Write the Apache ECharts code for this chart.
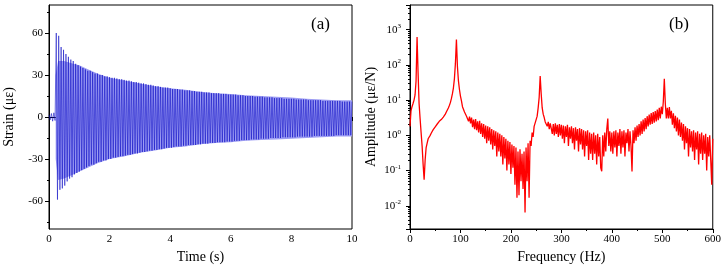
<!DOCTYPE html>
<html><head><meta charset="utf-8">
<script src="https://cdn.jsdelivr.net/npm/echarts@6/dist/echarts.min.js"></script>
<style>html,body{margin:0;padding:0;background:#fff}#c{width:724px;height:274px}</style>
</head><body><div id="c"></div>
<script>
// ---- Panel (a): strain time history (peaks/troughs) ----
const strainStart = 0;      // s
const strainStep = 0.04;    // s between successive peak/trough samples
const strainValues = [
 1.5,-2,2.5,-3,3,-2.5,60,-59,58,-52,
 50,-51,48,-49,45,-46,43,-44,41,-43,
 40,-41,38,-40,37,-39,36,-38,35,-37,
 34,-36,33,-35,33,-34,32,-34,31,-33,
 31,-32,30,-32,30,-31,29,-31,29,-30,
 28.5,-30,28,-29,28,-29,27.5,-28.5,27,-28,
 27,-28,26.5,-27.5,26,-27,26,-27,25.5,-26.5,
 25,-26,25,-26,24.5,-25.5,24,-25,24,-25,
 23.5,-24.5,23,-24,23,-24,22.5,-23.5,22,-23.5,
 22,-23,21.5,-23,21,-22.5,21,-22,21,-22,
 20.5,-22,20,-21.5,20,-21,20,-21,19.5,-21,
 19.5,-20.5,19,-20.5,19,-20,19,-20,18.5,-20,
 18.5,-20,18,-19.5,18,-19.5,18,-19,17.5,-19,
 17.5,-19,17.5,-18.5,17,-18.5,17,-18.5,17,-18,
 17,-18,16.5,-18,16.5,-18,16.5,-17.5,16,-17.5,
 16,-17.5,16,-17,16,-17,15.5,-17,15.5,-16.5,
 15.5,-16.5,15,-16.5,15,-16.5,15,-16,15,-16,
 14.5,-16,14.5,-16,14.5,-15.5,14.5,-15.5,14,-15.5,
 14,-15.5,14,-15,14,-15,13.5,-15,13.5,-15,
 13.5,-15,13.5,-14.5,13,-14.5,13,-14.5,13,-14.5,
 13,-14.5,13,-14.5,12.5,-14,12.5,-14,12.5,-14,
 12.5,-14,12.5,-14,12,-14,12,-14,12,-13.5,
 12,-13.5,12,-13.5,12,-13.5,11.5,-13.5,11.5,-13.5,
 11.5,-13.5,11.5,-13.5,11.5,-13.5,11.5,-13,11.5,-13,
 11.5,-13,11,-13,11,-13,11,-13,11,-13,
 11
];
// light envelope band (s, upper, lower)
const bandTime  = [0.22,0.3,0.5,0.8,1.0,1.3,1.6,2.0,2.5,3.0,3.5,4.0,4.5,5.0,5.5,6.0,6.5,7.0,7.5,8.0,8.5,9.0,9.5,10];
const bandUpper = [30,40,40,38,37,34,31,28,26,24,22,20.5,19.5,18,17,16.5,15.5,15,14.5,14,13,12.5,12,12];
const bandLower = [-30,-45,-44,-41,-39,-36,-33,-30,-28,-25.5,-24,-22,-21,-19.5,-18.5,-18,-17,-16.5,-16,-15.5,-15,-14.5,-14,-14];
const timeTicks = [0,2,4,6,8,10];
const strainTicks = [-60,-30,0,30,60];
const strainMinorTicks = [-75,-45,-15,15,45,75];

// ---- Panel (b): amplitude spectrum, 0..600 Hz every 2 Hz ----
const freqStart = 0, freqStep = 2;
const amplitude = [
 1.8,5,6.5,8,10,14,35,620,60,8,
 3,1.2,0.5,0.15,0.055,0.2,0.45,0.6,0.8,0.9,
 1.0,1.15,1.2,1.45,1.4,1.75,1.8,2.1,2.1,2.5,
 2.6,2.8,3.1,3.3,3.7,4.0,4.6,5.2,6.0,7.0,
 8.5,11,15,22,40,110,520,90,35,20,
 13,9.5,6.5,6,4.6,4.5,3.5,3.6,2.5,3.4,
 2.2,3.2,1.7,2.8,1.5,2.9,1.4,2.5,1.2,2.6,
 1.1,2.2,0.9,2.1,0.8,1.9,0.6,1.8,0.7,1.7,
 0.55,1.5,0.4,1.4,0.5,1.3,0.25,1.2,0.35,1.1,
 0.25,1.0,0.15,0.9,0.22,0.8,0.1,0.7,0.15,0.65,
 0.08,0.55,0.12,0.5,0.04,0.45,0.017,0.35,0.02,0.4,
 0.05,0.3,0.03,0.35,0.0065,0.45,0.05,0.6,0.017,0.7,
 0.5,1.2,0.9,1.8,1.6,2.8,3.5,6,12,48,
 15,6,4,3.2,2.4,2.6,1.8,2.4,1.5,2.2,
 2.3,1.1,2.1,1.0,2.2,1.1,2.0,0.9,2.1,1.0,
 2.0,0.8,1.9,0.6,1.8,0.9,2.0,0.5,1.7,0.8,
 1.8,0.6,1.6,0.4,1.7,0.7,1.5,0.35,1.6,0.55,
 1.5,0.4,1.4,0.25,1.3,0.5,1.4,0.2,1.2,0.3,
 1.1,0.2,1.2,0.3,1.0,0.15,1.1,0.25,0.9,0.12,
 0.096,1.0,0.25,1.2,0.35,1.5,3.0,0.5,1.3,0.35,
 1.2,0.3,1.3,0.45,1.4,0.25,1.2,0.5,1.5,0.3,
 1.3,0.45,1.4,0.25,1.2,0.6,1.5,0.35,1.3,0.5,
 0.095,1.4,0.6,1.7,0.7,1.9,0.9,2.1,1.0,2.5,
 1.1,2.8,1.3,3.1,1.5,3.5,1.8,3.9,2.0,4.3,
 2.1,4.6,2.3,4.9,2.5,5.4,2.7,6.0,3.0,6.5,
 4,9,40,8,3,6,3,6.3,3,5,
 2.0,4.2,1.6,3.6,1.3,3.2,1.0,2.8,0.9,2.3,
 0.7,2.1,0.4,1.8,0.6,1.6,0.25,1.5,0.45,1.3,
 0.35,1.4,0.2,1.2,0.4,1.3,0.15,1.1,0.3,1.2,
 0.2,1.0,0.3,1.1,0.1,0.9,0.25,1.0,0.2,0.04,
 0.8
];

const SERIF = '"Liberation Serif", "DejaVu Serif", serif';
const strainData = strainValues.map((v,i)=>[+(strainStart + i*strainStep).toFixed(3), v]);
const upperData = bandTime.map((t,i)=>[t, bandUpper[i]]);
const lowerData = bandTime.map((t,i)=>[t, bandLower[i]]);
const ampData = amplitude.map((v,i)=>[freqStart + i*freqStep, v]);

const chart = echarts.init(document.getElementById('c'), null, {renderer:'canvas'});
const lbl = {color:'#000', fontFamily:SERIF, fontSize:11};
const nameStyle = {color:'#000', fontFamily:SERIF, fontSize:14};
const axLine = {show:true, lineStyle:{color:'#000', width:1}};
chart.setOption({
  animation:false,
  grid:[
    {left:49, top:5, width:303, height:224, show:true, borderColor:'#000', borderWidth:1, backgroundColor:'transparent'},
    {left:410, top:5, width:304, height:224, show:true, borderColor:'#000', borderWidth:1, backgroundColor:'transparent'}
  ],
  xAxis:[
    {type:'value', gridIndex:0, min:0, max:10, interval:2, axisLine:axLine,
     axisTick:{show:true, inside:false, length:4, lineStyle:{color:'#000'}},
     minorTick:{show:true, splitNumber:2, length:2, lineStyle:{color:'#000'}},
     splitLine:{show:false}, axisLabel:Object.assign({margin:5}, lbl),
     name:'Time (s)', nameLocation:'middle', nameGap:19, nameTextStyle:nameStyle},
    {type:'value', gridIndex:1, min:0, max:600, interval:100, axisLine:axLine,
     axisTick:{show:true, inside:false, length:4, lineStyle:{color:'#000'}},
     minorTick:{show:true, splitNumber:2, length:2, lineStyle:{color:'#000'}},
     splitLine:{show:false}, axisLabel:Object.assign({margin:5}, lbl),
     name:'Frequency (Hz)', nameLocation:'middle', nameGap:19, nameTextStyle:nameStyle}
  ],
  yAxis:[
    {type:'value', gridIndex:0, min:-80, max:80, axisLine:axLine,
     axisTick:{show:true, inside:false, length:4, customValues:strainTicks, lineStyle:{color:'#000'}},
     splitLine:{show:false}, axisLabel:Object.assign({margin:6, customValues:strainTicks}, lbl),
     name:'Strain (με)', nameLocation:'middle', nameGap:33, nameTextStyle:nameStyle},
    {type:'value', gridIndex:0, min:-80, max:80, position:'left', axisLine:{show:false},
     axisTick:{show:true, inside:false, length:2, customValues:strainMinorTicks, lineStyle:{color:'#000'}},
     splitLine:{show:false}, axisLabel:{show:false}},
    {type:'log', logBase:10, gridIndex:1, min:0.0022, max:5000, axisLine:axLine,
     axisTick:{show:true, inside:false, length:4, lineStyle:{color:'#000'}},
     minorTick:{show:true, splitNumber:9, length:2, lineStyle:{color:'#000'}},
     splitLine:{show:false},
     axisLabel:{margin:9, showMinLabel:false, showMaxLabel:false,
       formatter:function(v){const e=Math.round(Math.log10(v));return '{b|10}{s|'+e+'}';},
       rich:{b:{fontFamily:SERIF,fontSize:11,color:'#000'}, s:{fontFamily:SERIF,fontSize:7,color:'#000',padding:[0,0,7,0]}}},
     name:'Amplitude (με/N)', nameLocation:'middle', nameGap:32, nameTextStyle:nameStyle}
  ],
  series:[
    {type:'line', xAxisIndex:0, yAxisIndex:0, data:upperData, symbol:'none', lineStyle:{width:0}, areaStyle:{color:'#9d9df3', opacity:1, origin:0}, z:1, silent:true},
    {type:'line', xAxisIndex:0, yAxisIndex:0, data:lowerData, symbol:'none', lineStyle:{width:0}, areaStyle:{color:'#9d9df3', opacity:1, origin:0}, z:1, silent:true},
    {type:'line', xAxisIndex:0, yAxisIndex:0, data:strainData, symbol:'none', lineStyle:{color:'#0c0cc4', width:0.6, opacity:0.95}, z:2},
    {type:'line', xAxisIndex:1, yAxisIndex:2, data:ampData, symbol:'none', lineStyle:{color:'#ff0000', width:1.3}, z:2}
  ],
  graphic:[
    {type:'text', left:311, top:16, style:{text:'(a)', font:'17px '+SERIF, fill:'#000'}},
    {type:'text', left:669, top:16, style:{text:'(b)', font:'17px '+SERIF, fill:'#000'}}
  ]
});
</script></body></html>
